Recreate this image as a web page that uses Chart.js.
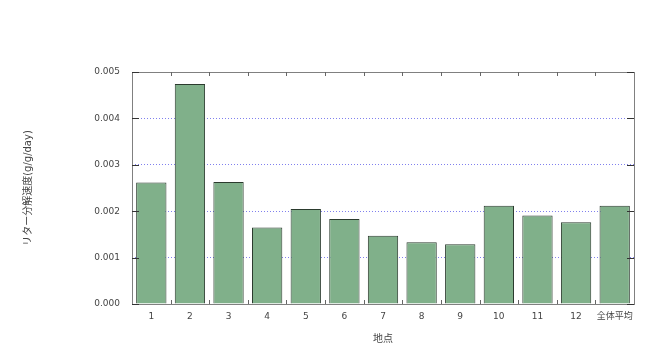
<!DOCTYPE html>
<html><head><meta charset="utf-8">
<script src="https://cdn.jsdelivr.net/npm/chart.js@4"></script>
<style>html,body{margin:0;padding:0;background:#fff}#w{width:657px;height:354px}</style>
</head><body><div id="w"><canvas id="c" width="657" height="354"></canvas></div>
<script>
const categories = ["1","2","3","4","5","6","7","8","9","10","11","12","全体平均"];
const decompositionRate = [0.00262,0.00474,0.00263,0.00165,0.00205,0.00183,0.00147,0.00133,0.00129,0.00212,0.00191,0.00176,0.00212];
const yTicks = [0,0.001,0.002,0.003,0.004,0.005];
const yTitle = "リター分解速度(g/g/day)";
const xTitle = "地点";

const FONT = "'DejaVu Sans','Noto Sans CJK JP',sans-serif";

const frame = {
  id:'frame',
  afterDatasetsDraw(chart){
    const {ctx, chartArea:a, scales:{x,y}} = chart;
    ctx.save();
    ctx.lineWidth = 1;
    ctx.strokeStyle = '#808080';
    ctx.strokeRect(Math.round(a.left)+0.5, Math.round(a.top)+0.5, Math.round(a.right-a.left), Math.round(a.bottom-a.top));
    ctx.strokeStyle = '#333';
    yTicks.forEach(v=>{
      const py = Math.round(y.getPixelForValue(v))+0.5;
      ctx.beginPath();
      ctx.moveTo(a.left, py); ctx.lineTo(a.left+7, py);
      ctx.moveTo(a.right, py); ctx.lineTo(a.right-7, py);
      ctx.stroke();
    });
    ctx.strokeStyle = '#666';
    for(let i=1;i<categories.length;i++){
      const px = Math.round((x.getPixelForValue(i-1)+x.getPixelForValue(i))/2)+0.5;
      ctx.beginPath();
      ctx.moveTo(px, a.bottom); ctx.lineTo(px, a.bottom-4);
      ctx.moveTo(px, a.top); ctx.lineTo(px, a.top+4);
      ctx.stroke();
    }
    ctx.restore();
  }
};

new Chart(document.getElementById('c'), {
  type:'bar',
  data:{labels:categories, datasets:[{data:decompositionRate, backgroundColor:'#80b08a', borderColor:'#2b3b2e', borderWidth:1, borderSkipped:'bottom', categoryPercentage:1, barPercentage:0.785}]},
  options:{
    responsive:false, animation:false,
    layout:{padding:{left:0, top:72, right:23, bottom:0}},
    plugins:{legend:{display:false}, tooltip:{enabled:false}},
    scales:{
      x:{
        grid:{display:false, drawTicks:false},
        border:{display:false},
        ticks:{color:'#444', font:{family:FONT, size:9}, padding:7, autoSkip:false, maxRotation:0},
        title:{display:true, text:xTitle, color:'#444', font:{family:FONT, size:10}, padding:{top:0,bottom:9}},
        afterFit(s){ s.height = 50; }
      },
      y:{
        min:0, max:0.005,
        afterBuildTicks(s){ s.ticks = yTicks.map(v=>({value:v})); },
        grid:{color:'#8080ee', lineWidth:1, drawTicks:false, borderDash:[1,2]},
        border:{display:false, dash:[1,2]},
        ticks:{color:'#444', font:{family:FONT, size:9}, padding:12, callback:v=>v.toFixed(3)},
        title:{display:true, text:yTitle, color:'#444', font:{family:FONT, size:10}, padding:{top:22,bottom:0}},
        afterFit(s){ s.width = 132; }
      }
    }
  },
  plugins:[frame]
});
</script></body></html>
